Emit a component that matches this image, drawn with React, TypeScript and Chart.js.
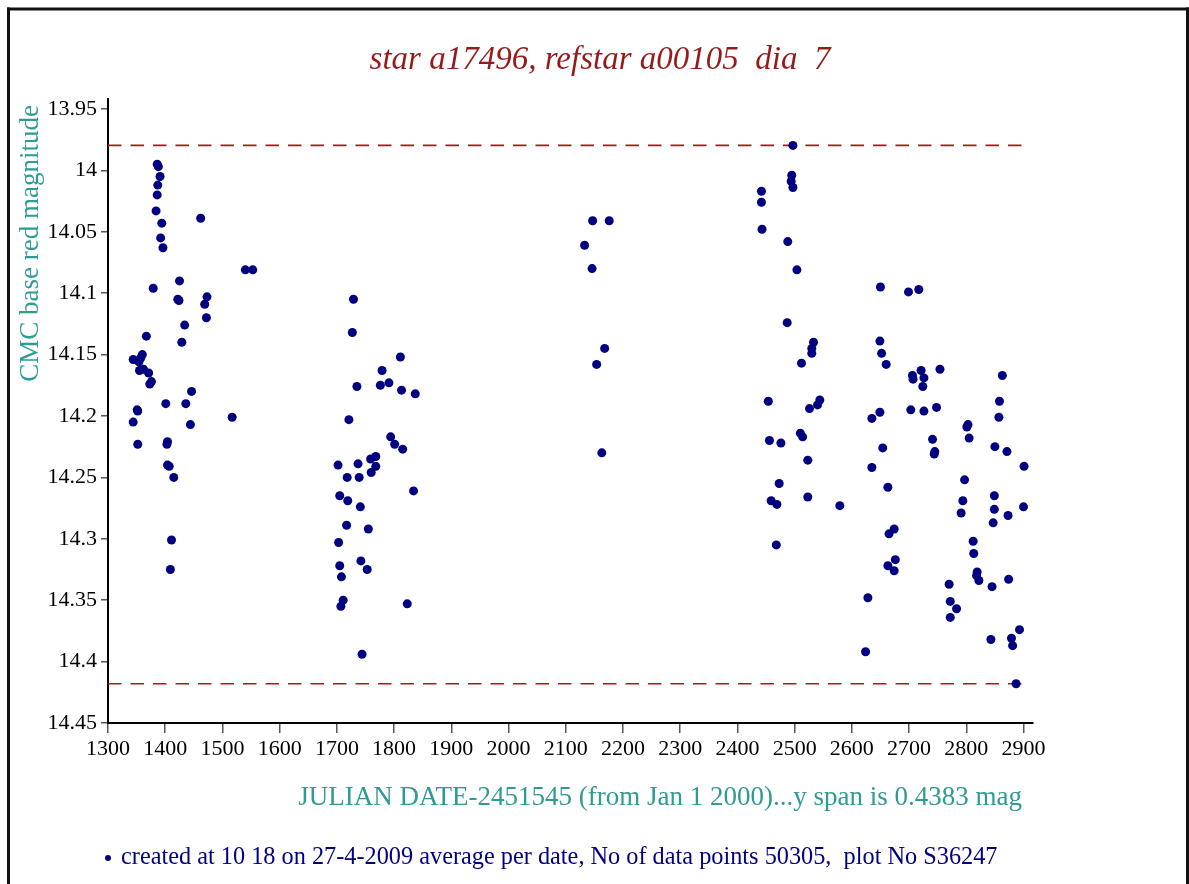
import React, { useEffect, useRef } from "react";
import { Chart, registerables } from "chart.js";

Chart.register(...registerables);

const TITLE = "star a17496, refstar a00105  dia  7";
const Y_TITLE = "CMC base red magnitude";
const X_TITLE = "JULIAN DATE-2451545 (from Jan 1 2000)...y span is 0.4383 mag";
const FOOTER = "created at 10 18 on 27-4-2009 average per date, No of data points 50305,  plot No S36247";

const xTicks = [1300, 1400, 1500, 1600, 1700, 1800, 1900, 2000, 2100, 2200, 2300, 2400, 2500, 2600, 2700, 2800, 2900];
const yTicks = [13.95, 14, 14.05, 14.1, 14.15, 14.2, 14.25, 14.3, 14.35, 14.4, 14.45];

const brightLimit = 13.9797;
const faintLimit = 14.418;
const limitSpan = [1300, 2900];

const season1: [number, number][] = [
  [1386, 13.995], [1388, 13.997], [1391, 14.005], [1387, 14.012], [1386, 14.02], [1384, 14.033],
  [1394, 14.043], [1392, 14.055], [1396, 14.063], [1462, 14.039], [1540, 14.081], [1553, 14.081],
  [1425, 14.09], [1379, 14.096], [1424, 14.106], [1422, 14.105], [1473, 14.103], [1469, 14.109],
  [1472, 14.12], [1434, 14.126], [1367, 14.135], [1429, 14.14], [1344, 14.154], [1360, 14.15],
  [1357, 14.153], [1354, 14.156], [1355, 14.163], [1362, 14.162], [1371, 14.165], [1373, 14.174],
  [1376, 14.172], [1446, 14.18], [1401, 14.19], [1436, 14.19], [1352, 14.196], [1351, 14.195],
  [1517, 14.201], [1344, 14.205], [1444, 14.207], [1352, 14.223], [1404, 14.221], [1403, 14.223],
  [1404, 14.24], [1407, 14.241], [1415, 14.25], [1411, 14.301], [1409, 14.325],
];

const season2: [number, number][] = [
  [1729, 14.105], [1727, 14.132], [1811, 14.152], [1779, 14.163], [1776, 14.175], [1791, 14.173],
  [1735, 14.176], [1813, 14.179], [1837, 14.182], [1721, 14.203], [1794, 14.217], [1801, 14.223],
  [1815, 14.227], [1702, 14.24], [1737, 14.239], [1759, 14.235], [1768, 14.233], [1768, 14.241],
  [1760, 14.246], [1718, 14.25], [1739, 14.25], [1834, 14.261], [1705, 14.265], [1719, 14.269],
  [1741, 14.274], [1717, 14.289], [1755, 14.292], [1703, 14.303], [1742, 14.318], [1753, 14.325],
  [1705, 14.322], [1708, 14.331], [1711, 14.35], [1707, 14.355], [1823, 14.353], [1744, 14.394],
];

const season3: [number, number][] = [
  [2147, 14.041], [2176, 14.041], [2133, 14.061], [2146, 14.08], [2168, 14.145], [2154, 14.158], [2163, 14.23],
];

const season4: [number, number][] = [
  [2497, 13.9797], [2495, 14.004], [2494, 14.009], [2497, 14.014], [2442, 14.017], [2442, 14.026],
  [2443, 14.048], [2488, 14.058], [2504, 14.081], [2487, 14.124], [2533, 14.14], [2530, 14.145],
  [2530, 14.149], [2512, 14.157], [2454, 14.188], [2526, 14.194], [2540, 14.191], [2544, 14.187],
  [2456, 14.22], [2476, 14.222], [2510, 14.214], [2514, 14.217], [2523, 14.236], [2473, 14.255],
  [2459, 14.269], [2469, 14.272], [2523, 14.266], [2468, 14.305], [2579, 14.273],
];

const season5: [number, number][] = [
  [2650, 14.095], [2699, 14.099], [2717, 14.097], [2649, 14.139], [2652, 14.149], [2660, 14.158],
  [2721, 14.163], [2754, 14.162], [2706, 14.167], [2707, 14.17], [2726, 14.169], [2724, 14.176],
  [2863, 14.167], [2858, 14.188], [2857, 14.201], [2635, 14.202], [2649, 14.197], [2703, 14.195],
  [2726, 14.196], [2748, 14.193], [2654, 14.226], [2635, 14.242], [2663, 14.258], [2665, 14.296],
  [2674, 14.292], [2663, 14.322], [2676, 14.317], [2674, 14.326], [2628, 14.348], [2624, 14.392],
  [2741, 14.219], [2745, 14.229], [2744, 14.231], [2803, 14.207], [2801, 14.209], [2805, 14.218],
  [2797, 14.252], [2794, 14.269], [2791, 14.279], [2812, 14.302], [2813, 14.312], [2819, 14.327],
  [2818, 14.33], [2822, 14.334], [2770, 14.337], [2772, 14.351], [2783, 14.357], [2772, 14.364],
  [2850, 14.225], [2871, 14.229], [2901, 14.241], [2849, 14.265], [2849, 14.276], [2873, 14.281],
  [2847, 14.287], [2900, 14.274], [2874, 14.333], [2845, 14.339], [2893, 14.374], [2879, 14.381],
  [2881, 14.387], [2843, 14.382], [2887, 14.418],
];

const SERIF = '"Liberation Serif", "DejaVu Serif", serif';
const TEAL = "#2f9b93";
const NAVY = "#000080";
const DARKRED = "#951b1b";
const DASHRED = "#a01c1c";

const textPlugin = {
  id: "pageTexts",
  afterDraw(chart: any) {
    const ctx = chart.ctx as CanvasRenderingContext2D;
    ctx.save();
    // frame
    ctx.fillStyle = "#111";
    ctx.fillRect(7, 7.5, 1182, 3);
    ctx.fillRect(7, 7.5, 3, 884);
    ctx.fillRect(1186, 7.5, 3, 884);
    // title
    ctx.fillStyle = DARKRED;
    ctx.font = `italic 33px ${SERIF}`;
    ctx.textAlign = "center";
    ctx.textBaseline = "middle";
    ctx.fillText(TITLE, 600, 60);
    // y title
    ctx.save();
    ctx.translate(31, 105);
    ctx.rotate(-Math.PI / 2);
    ctx.fillStyle = TEAL;
    ctx.font = `27px ${SERIF}`;
    ctx.textAlign = "right";
    ctx.textBaseline = "middle";
    ctx.fillText(Y_TITLE, 0, 0);
    ctx.restore();
    // x title
    ctx.fillStyle = TEAL;
    ctx.font = `27px ${SERIF}`;
    ctx.textAlign = "right";
    ctx.textBaseline = "middle";
    ctx.fillText(X_TITLE, 1022, 798);
    // footer
    ctx.fillStyle = NAVY;
    ctx.beginPath();
    ctx.arc(108, 858, 3, 0, Math.PI * 2);
    ctx.fill();
    ctx.font = `24.3px ${SERIF}`;
    ctx.textAlign = "left";
    ctx.textBaseline = "middle";
    ctx.fillText(FOOTER, 121, 858);
    ctx.restore();
  },
};

const fmt = (v: number) => String(Number(v.toFixed(2)));

export default function App() {
  const ref = useRef<HTMLCanvasElement>(null);
  useEffect(() => {
    if (!ref.current) return;
    const all = [...season1, ...season2, ...season3, ...season4, ...season5];
    const chart = new Chart(ref.current, {
      type: "scatter",
      data: {
        datasets: [
          {
            label: FOOTER,
            data: all.map(([x, y]) => ({ x, y })),
            pointRadius: 4.5,
            pointHoverRadius: 4.5,
            backgroundColor: NAVY,
            borderColor: NAVY,
            borderWidth: 0,
            showLine: false,
          },
          {
            type: "line",
            label: "bright",
            data: limitSpan.map((x) => ({ x, y: brightLimit })),
            borderColor: DASHRED,
            borderWidth: 1.6,
            borderDash: [13.5, 9],
            pointRadius: 0,
            fill: false,
          },
          {
            type: "line",
            label: "faint",
            data: limitSpan.map((x) => ({ x, y: faintLimit })),
            borderColor: DASHRED,
            borderWidth: 1.6,
            borderDash: [13.5, 9],
            pointRadius: 0,
            fill: false,
          },
        ] as any,
      },
      options: {
        responsive: false,
        maintainAspectRatio: false,
        animation: false,
        layout: { padding: { top: 99, left: 28, right: 156, bottom: 0 } },
        plugins: {
          legend: { display: false },
          title: { display: false },
          tooltip: { enabled: false },
        },
        scales: {
          x: {
            type: "linear",
            min: 1300,
            max: 2916.6,
            afterBuildTicks: (s: any) => {
              s.ticks = xTicks.map((value) => ({ value }));
            },
            afterFit: (s: any) => {
              s.height = 161;
            },
            grid: { drawOnChartArea: false, drawTicks: true, tickLength: 10, color: "#555", lineWidth: 1.5 },
            border: { display: true, color: "#000", width: 2 },
            ticks: {
              color: "#000",
              font: { family: SERIF, size: 22 },
              padding: 3,
              maxRotation: 0,
              autoSkip: false,
              callback: (v: any) => String(v),
            },
            title: { display: false },
          },
          y: {
            type: "linear",
            reverse: true,
            min: 13.9419,
            max: 14.45,
            afterBuildTicks: (s: any) => {
              s.ticks = yTicks.map((value) => ({ value }));
            },
            afterFit: (s: any) => {
              s.width = 80;
            },
            grid: { drawOnChartArea: false, drawTicks: true, tickLength: 7, color: "#555", lineWidth: 1.5 },
            border: { display: true, color: "#000", width: 2 },
            ticks: {
              color: "#000",
              font: { family: SERIF, size: 22 },
              padding: 4,
              autoSkip: false,
              callback: (v: any) => fmt(Number(v)),
            },
          },
        },
      } as any,
      plugins: [textPlugin],
    });
    return () => chart.destroy();
  }, []);

  return (
    <div style={{ position: "fixed", left: 0, top: 0, width: 1189, height: 884, background: "#fff" }}>
      <canvas ref={ref} width={1189} height={884} style={{ width: 1189, height: 884, display: "block" }} />
    </div>
  );
}
